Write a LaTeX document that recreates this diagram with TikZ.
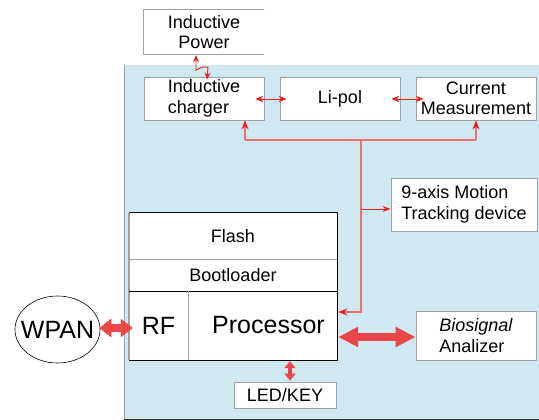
\documentclass[tikz,border=0pt]{standalone}
\usepackage{fontspec}
\setmainfont{Liberation Sans}
\usetikzlibrary{arrows.meta,calc,shapes.geometric}

\definecolor{panel}{RGB}{208,233,240}
\definecolor{linkred}{RGB}{236,32,36}
\definecolor{busred}{RGB}{240,110,114}
\definecolor{fatred}{RGB}{232,70,72}
\definecolor{edgegray}{RGB}{160,160,160}

\begin{document}
\begin{tikzpicture}[x=1pt,y=-1pt,
  txt/.style={font=\fontsize{18}{20.5}\selectfont},
  bigtxt/.style={font=\fontsize{25}{28}\selectfont},
  box/.style={txt, draw=edgegray, line width=0.8pt, fill=white,
    minimum width=120pt, minimum height=43pt, inner sep=0pt, align=center},
  cell/.style={txt, fill=white, inner sep=0pt, align=center},
  link/.style={draw=linkred, line width=0.9pt,
    {Stealth[length=8pt,width=6.5pt]}-{Stealth[length=8pt,width=6.5pt]}},
  onelink/.style={draw=linkred, line width=0.9pt, -{Stealth[length=8pt,width=6pt]}},
  bus/.style={draw=busred, line width=1.3pt},
  busarrow/.style={bus, -{Stealth[length=9pt,width=7pt,color=linkred]}},
  fat/.style={draw=fatred, line width=#1},
]
\useasboundingbox (0,0) rectangle (539,420);

% device panel
\fill[panel] (124,65) rectangle (539,419);
\draw[edgegray, line width=1pt] (124,65) -- (124,419);
\draw[black!80, line width=1pt] (124,419) -- (539,419);

% power section
\node[cell, minimum width=120pt, minimum height=44pt] (ipow) at (204,32)
  {Inductive\\Power};
\draw[edgegray, line width=0.8pt] (ipow.north east) -- (ipow.north west)
  -- (ipow.south west) -- (ipow.south east);
\node[box, align=left] (chg) at (204,98.5) {Inductive\\charger};
\node[box] (lipol) at (340,98.5) {Li-pol};
\node[box] (curm) at (476,98.5) {Current\\Measurement};

% sensor and analyser
\node[box, align=left, minimum width=146pt, minimum height=53pt] (motion)
  at (464,204.5) {9-axis Motion\\Tracking device};
\node[box, align=left, minimum height=49pt] (bio) at (476,335.5)
  {\textit{Biosignal}\\Analizer};
\node[box, minimum width=102pt, minimum height=26pt] (led) at (285,395)
  {LED/KEY};

% microcontroller stack
\node[cell, minimum width=208pt, minimum height=46pt] (flash) at (233,236) {Flash};
\node[cell, minimum width=208pt, minimum height=32pt] (boot) at (233,275) {Bootloader};
\node[cell, bigtxt, minimum width=59pt, minimum height=69pt] (rf) at (158.5,325.5) {RF};
\node[cell, bigtxt, minimum width=149pt, minimum height=69pt] (proc) at (262.5,325.5)
  {\hspace*{12pt}Processor};
\draw[black, line width=0.9pt] (flash.north west) -- (flash.north east)
  -- (proc.south east) -- (rf.south west);
\draw[edgegray, line width=1.6pt] (flash.north west) -- (rf.south west);
\draw[edgegray, line width=0.8pt] (flash.south west) -- (flash.south east);
\draw[black, line width=0.9pt] (boot.south west) -- (boot.south east);
\draw[edgegray, line width=0.8pt] (rf.north east) -- (rf.south east);

% radio link: the ellipse keeps its own size, the label may overhang it
\node[ellipse, draw=black, line width=0.6pt, minimum width=85pt,
  minimum height=67pt, inner sep=0pt, bigtxt] (wpan) at (57.5,329.5)
  {\makebox[0pt]{WPAN}};

% thin links between power blocks
\draw[link, {Stealth[length=7pt,width=6pt]}-{Stealth[length=7pt,width=6pt]}]
  ($(ipow.south)+(-8,1)$) -- ++(0,15) -- ++(6,-3) -- ++(6,0)
  -- ($(chg.north)+(3,3)$);
\draw[link] ($(chg.east)+(-9,0.5)$) -- ($(lipol.west)+(7,0.5)$);
\draw[link] ($(lipol.east)+(-9,0.5)$) -- ($(curm.west)+(8,0.5)$);

% internal bus
\coordinate (busL) at (245,140);
\coordinate (busR) at (476,140);
\coordinate (busV) at (361,140);
\coordinate (busM) at (361,209);
\coordinate (busD) at (361,312);
\draw[bus] (busL) -- (busR);
\draw[busarrow] (busL) -- (chg.south -| busL);
\draw[busarrow] (busR) -- (curm.south -| busR);
\draw[busarrow] (busV) -- (busD) -- ($(proc.east |- busD)+(1,0)$);
\draw[onelink] (busM) -- (motion.west |- busM);

% wide data links
\draw[fat=8pt, {Triangle[length=20pt,width=19pt]}-{Triangle[length=20pt,width=19pt]}]
  ($(proc.east)+(1,11.5)$) -- ($(bio.west)+(0,1.5)$);
\draw[fat=8pt, {Triangle[length=12pt,width=18pt]}-{Triangle[length=12pt,width=18pt]}]
  ($(wpan.east)+(-1,-1.5)$) -- ($(rf.west)+(4,2.5)$);
\draw[fat=3.5pt, {Triangle[length=7pt,width=11pt]}-{Triangle[length=7pt,width=11pt]}]
  ($(proc.south)+(27.5,1)$) -- ($(led.north -| proc.south)+(27.5,-1)$);
\end{tikzpicture}
\end{document}
